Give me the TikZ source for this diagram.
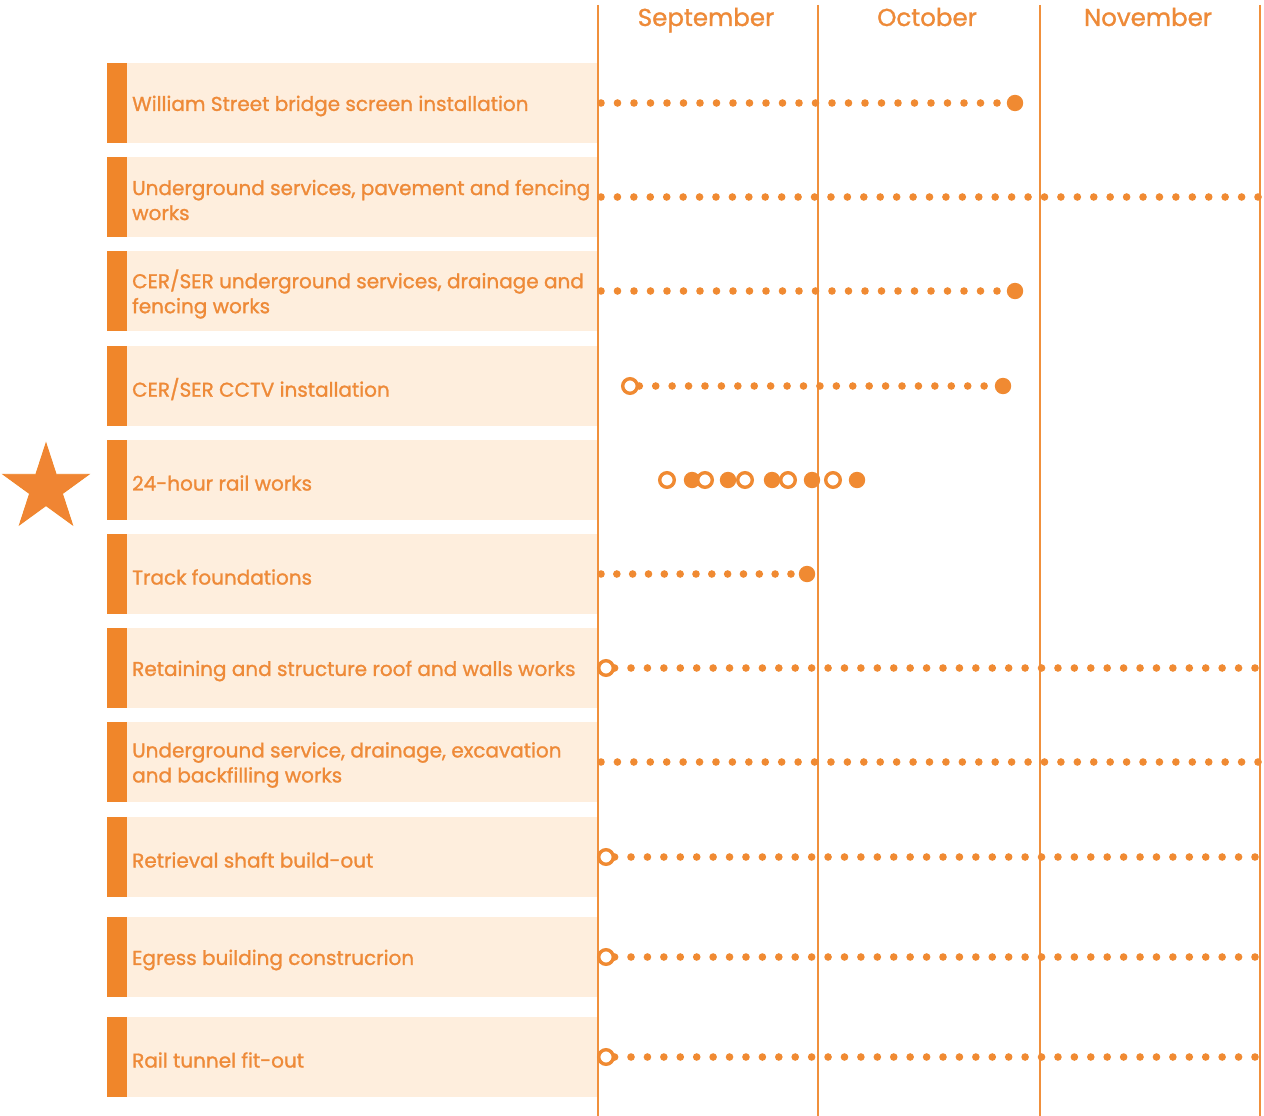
\documentclass[tikz,border=0pt]{standalone}
\usepackage{fontspec}
\setmainfont{Poppins}
\newfontfamily\lblfont{Poppins}[FakeBold=1.2]
\definecolor{barC}{HTML}{F0862A}
\definecolor{fillC}{HTML}{FEEEDD}
\definecolor{textC}{HTML}{EE8A38}
\definecolor{lineC}{HTML}{F0903C}
\definecolor{dotC}{HTML}{F08A32}
\definecolor{starC}{HTML}{F08533}
\tikzset{
  rowbar/.style={fill=barC},
  rowfill/.style={fill=fillC},
  rowlabel/.style={anchor=west, align=left, inner sep=0pt, text=textC,
    font=\lblfont\fontsize{20}{25}\selectfont},
  month/.style={anchor=base, text=textC, font=\lblfont\fontsize{24.5}{26}\selectfont, inner sep=0pt},
  mline/.style={draw=lineC, line width=1.8pt},
  smalldot/.style={fill=dotC},
  bigdot/.style={fill=dotC},
  ringdot/.style={draw=dotC, line width=3.4pt, fill=white},
}
\newcommand{\dotrun}[4]{% y, start, step, end
  \pgfmathsetmacro{\dsecond}{#2+#3}%
  \foreach \xx in {#2,\dsecond,...,#4} \fill[smalldot] (\xx,#1) circle (3.8);
}
\begin{document}
\begin{tikzpicture}[x=1pt,y=-1pt]
\useasboundingbox[fill=white] (0,0) rectangle (1264,1116);
% rows
\foreach \n/\yc/\txt in {
  r1/103/{William Street bridge screen installation},
  r2/197/{Underground services, pavement and fencing\\works},
  r3/291/{CER/SER underground services, drainage and\\fencing works},
  r4/386/{CER/SER CCTV installation},
  r5/480/{24-hour rail works},
  r6/574/{Track foundations},
  r7/668/{Retaining and structure roof and walls works},
  r8/762/{Underground service, drainage, excavation\\and backfilling works},
  r9/857/{Retrieval shaft build-out},
  r10/957/{Egress building construcrion},
  r11/1057/{Rail tunnel fit-out}} {
  \fill[rowfill] (127,\yc-40) rectangle (597,\yc+40);
  \fill[rowbar] (107,\yc-40) rectangle (127,\yc+40);
  \node[rowlabel] (\n) at (132,\yc+3) {\txt};
}
% star
\begin{scope}[shift={(46,488.3)}, yscale=-1]
\filldraw[fill=starC, draw=barC, line width=0.8pt] (90:45.3) -- (126:17.3) -- (162:45.3) -- (198:17.3) -- (234:45.3) -- (270:17.3) -- (306:45.3) -- (342:17.3) -- (18:45.3) -- (54:17.3) -- cycle;
\end{scope}
% month lines and headers
\foreach \x in {598,818,1040,1260} \draw[mline] (\x,5) -- (\x,1116);
\node[month] (sep) at (706,26) {September};
\node[month] (oct) at (927,26) {October};
\node[month] (nov) at (1148,26) {November};
% row 1
\dotrun{103}{601}{16.5}{998}
\fill[bigdot] (1015,103) circle (8.2);
% row 2
\dotrun{197}{601}{16.425}{1259}
% row 3
\dotrun{291}{601}{16.5}{998}
\fill[bigdot] (1015,291) circle (8.2);
% row 4
\dotrun{386}{639.3}{16.42}{988}
\fill[bigdot] (1003,386) circle (8.2);
\draw[ringdot] (630,386) circle (7.3);
% row 5
\foreach \x in {692,728,772,812,857} \fill[bigdot] (\x,480) circle (8.2);
\foreach \x in {667,705,745,788,833} \draw[ringdot] (\x,480) circle (7.3);
% row 6
\dotrun{574}{601}{15.83}{792}
\fill[bigdot] (807,574) circle (8.2);
% rows 7-11
\dotrun{668}{614.6}{16.42}{1259}
\draw[ringdot] (606,668) circle (7.3);
\dotrun{762}{601}{16.425}{1259}
\dotrun{857}{614.6}{16.42}{1259}
\draw[ringdot] (606,857) circle (7.3);
\dotrun{957}{614.6}{16.42}{1259}
\draw[ringdot] (606,957) circle (7.3);
\dotrun{1057}{614.6}{16.42}{1259}
\draw[ringdot] (606,1057) circle (7.3);
\end{tikzpicture}
\end{document}
